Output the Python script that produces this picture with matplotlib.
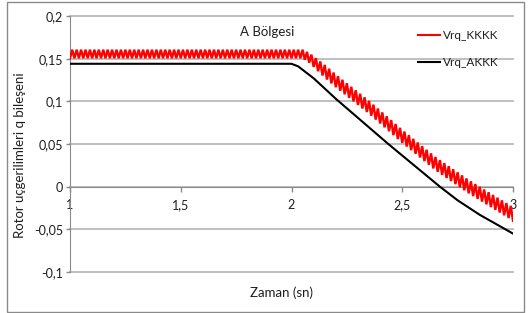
"""Rotor q-axis voltage (Vrq) for the two controller variants, region A.

Vrq_KKKK carries a ~50 Hz ripple on top of its mean curve; the mean curve,
the ripple amplitude and the smooth Vrq_AKKK curve are read off the figure.
"""
import matplotlib.pyplot as plt
import numpy as np
from matplotlib.lines import Line2D
from matplotlib.patches import Rectangle

# Vrq_AKKK (black, smooth)
TIME_AKKK = [1.0, 2.0, 2.03, 2.06, 2.1, 2.2, 2.437, 2.67, 2.75, 2.85, 3.0]
VRQ_AKKK = [0.144, 0.144, 0.141, 0.135, 0.127, 0.103, 0.05, 0.0, -0.016, -0.033, -0.055]

# Vrq_KKKK (red): mean curve + ripple envelope
TIME_KKKK = [1.0, 2.05, 2.08, 2.12, 2.2, 2.35, 2.5, 2.65, 2.8, 2.9, 3.0]
VRQ_KKKK_MEAN = [0.1555, 0.1555, 0.151, 0.142, 0.124, 0.093, 0.059, 0.027, 0.0, -0.016, -0.032]
RIPPLE_TIME = [1.0, 2.05, 2.15, 3.0]
RIPPLE_AMP = [0.005, 0.005, 0.0075, 0.008]
RIPPLE_HZ = 50

X_TICKS = [1, 1.5, 2, 2.5, 3]
X_TICK_LABELS = ["1", "1,5", "2", "2,5", "3"]
Y_TICKS = [-0.1, -0.05, 0, 0.05, 0.1, 0.15, 0.2]
Y_TICK_LABELS = ["-0,1", "-0,05", "0", "0,05", "0,1", "0,15", "0,2"]

RED = "#ff0000"
BLACK = "#000000"
GRID = "#b4b4b4"
AXIS = "#8a8a8a"
TEXT = "#1e1e1e"

plt.rcParams["font.family"] = ["Lato", "DejaVu Sans"]

fig = plt.figure(figsize=(5.28, 3.13), dpi=100)
ax = fig.add_axes([70 / 528, 41 / 313, 443 / 528, 256 / 313])

# red series drawn as a zigzag: one extreme every half ripple period
t_red = np.arange(1.0, 3.0 + 1e-9, 0.5 / RIPPLE_HZ)
mean = np.interp(t_red, TIME_KKKK, VRQ_KKKK_MEAN)
amp = np.interp(t_red, RIPPLE_TIME, RIPPLE_AMP)
sign = np.where(np.arange(len(t_red)) % 2 == 0, -1.0, 1.0)
ax.plot(t_red, mean + sign * amp, color=RED, lw=1.7, zorder=3, solid_joinstyle="miter")
ax.plot(TIME_AKKK, VRQ_AKKK, color=BLACK, lw=1.5, zorder=4)

ax.set_xlim(1, 3)
ax.set_ylim(-0.1, 0.2)
ax.set_xticks(X_TICKS, X_TICK_LABELS)
ax.set_yticks(Y_TICKS, Y_TICK_LABELS)
ax.grid(axis="y", color=GRID, lw=1.2, clip_on=False)
ax.set_axisbelow(True)

for side in ("top", "right"):
    ax.spines[side].set_visible(False)
ax.spines["left"].set_color(AXIS)
ax.spines["bottom"].set_color(AXIS)
ax.spines["bottom"].set_position(("data", 0))
ax.tick_params(axis="x", direction="out", length=3.6, width=1, color=AXIS, pad=5.5, labelsize=9, labelcolor=TEXT)
ax.tick_params(axis="y", direction="out", length=3, width=1, color=AXIS, pad=2, labelsize=9, labelcolor=TEXT)

ax.text(1.89, 0.1813, "A Bölgesi", ha="center", va="center", fontsize=9.5, color=TEXT)

handles = [Line2D([], [], color=RED, lw=1.5), Line2D([], [], color=BLACK, lw=1.5)]
ax.legend(handles, ["Vrq_KKKK", "Vrq_AKKK"], loc="upper left",
          bbox_to_anchor=((418 - 70) / 443, (272 - 30) / 256), frameon=False,
          borderaxespad=0, borderpad=0, handlelength=1.9, handletextpad=0.25,
          labelspacing=1.35, fontsize=8.5, labelcolor=TEXT)

fig.text(282 / 528, 1 - 293 / 313, "Zaman (sn)", ha="center", va="center", fontsize=9.5, color=TEXT)
fig.text(20 / 528, 1 - 155 / 313, "Rotor uçgerilimleri q bileşeni", ha="center", va="center",
         rotation=90, fontsize=9.5, color=TEXT)

fig.patches.append(Rectangle((7 / 528, 1.5 / 313), 517 / 528, 309.5 / 313, transform=fig.transFigure,
                             fill=False, edgecolor=AXIS, lw=1))

fig.savefig("out.png", dpi=100)
